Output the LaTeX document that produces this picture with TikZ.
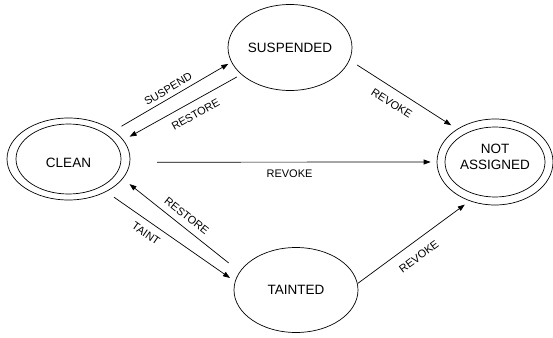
\documentclass[tikz,border=0pt]{standalone}
\usepackage{fontspec}
\setmainfont{Liberation Sans}
\usetikzlibrary{shapes.geometric, arrows.meta}

\tikzset{
	state/.style={ellipse, draw, line width=0.7pt, inner sep=0pt, font=\fontsize{13.5}{16}\selectfont},
	trans/.style={line width=0.7pt, -{Triangle[length=7pt, width=5pt]}},
	lbl/.style={sloped, font=\fontsize{11}{13}\selectfont}
}

\begin{document}
\begin{tikzpicture}[x=1pt, y=1pt]
			\useasboundingbox (0,0) rectangle (553,-337);
			
			\node [state, minimum width=123pt, minimum height=82pt, text height=17pt] (clean) at (68.5,-159) {CLEAN};
			\node [state, minimum width=105pt, minimum height=70pt] (clean-in) at (clean.center) {};
			\node [state, minimum width=124pt, minimum height=86pt] (susp) at (290,-47.5) {SUSPENDED};
			\node [state, minimum width=124pt, minimum height=85pt] (taint) at (296,-290) {TAINTED};
			\node [state, minimum width=116pt, minimum height=86pt, align=center, text height=15.5pt] (nas) at (495,-162) {NOT\\ASSIGNED};
			\node [state, minimum width=100pt, minimum height=70pt] (nas-in) at (nas.center) {};
			
			\draw [trans, shorten <=9pt, shorten >=3.5pt] (clean.32) -- (susp.194) node [lbl, above=1pt, pos=0.5] {SUSPEND};
			\draw [trans, shorten <=5pt, shorten >=7pt] (susp.209) -- (clean.19) node [lbl, below=5pt, pos=0.44] {RESTORE};
			\draw [trans, shorten <=27pt, shorten >=6pt] (clean.-3) -- (nas.west) node [lbl, below=4.5pt, pos=0.52] {REVOKE};
			\draw [trans, shorten <=9pt, shorten >=7pt] (susp.-12) -- (nas.139) node [lbl, below=6pt, pos=0.46] {REVOKE};
			\draw [trans, shorten <=0.5pt, shorten >=6pt] (taint.6) -- (nas.237) node [lbl, below=7pt, pos=0.47] {REVOKE};
			\draw [trans, shorten <=9.5pt, shorten >=6pt] (clean.-41) -- (taint.172) node [lbl, below=4pt, pos=0.36] {TAINT};
			\draw [trans, shorten <=14pt, shorten >=8.5pt] (taint.162) -- (clean.-20) node [lbl, above=3pt, pos=0.51] {RESTORE};
		\end{tikzpicture}
\end{document}
